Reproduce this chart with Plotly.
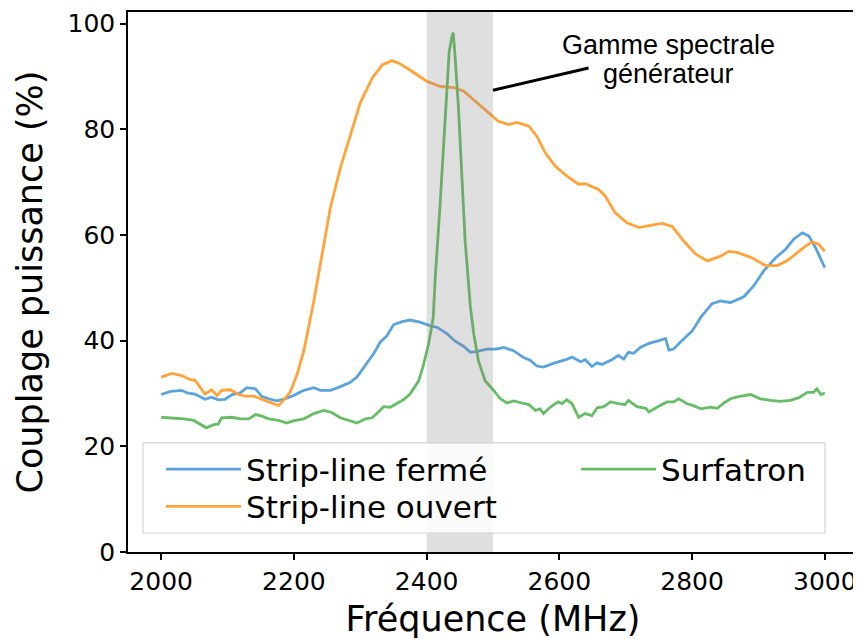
import plotly.graph_objects as go

# ---------------- data ----------------
freq_ferme = [2000, 2014, 2031, 2039, 2051, 2066, 2076, 2086, 2096, 2107, 2119, 2129, 2142, 2152,
              2162, 2174, 2184, 2199, 2215, 2230, 2240, 2255, 2270, 2285, 2295, 2308, 2320, 2330,
              2340, 2350, 2363, 2375, 2390, 2406, 2416, 2431, 2443, 2456, 2466, 2478, 2491, 2504,
              2516, 2531, 2546, 2556, 2566, 2576, 2591, 2612, 2619, 2632, 2639, 2649, 2657, 2664,
              2679, 2689, 2697, 2704, 2712, 2722, 2735, 2750, 2760, 2765, 2772, 2782, 2792, 2800,
              2813, 2830, 2843, 2858, 2878, 2893, 2908, 2926, 2941, 2953, 2966, 2976, 2986, 3000]
val_ferme = [29.8, 30.4, 30.6, 30.1, 29.9, 28.9, 29.3, 28.8, 28.9, 29.8, 30.1, 31.1, 30.9, 29.4,
             29.0, 28.6, 28.9, 29.6, 30.6, 31.1, 30.6, 30.6, 31.3, 32.1, 33.1, 35.3, 37.5, 39.7,
             40.9, 43.0, 43.6, 43.9, 43.5, 42.8, 42.5, 41.3, 39.9, 38.9, 37.8, 38.0, 38.4, 38.4,
             38.7, 38.1, 36.8, 36.3, 35.2, 35.0, 35.7, 36.5, 36.9, 36.0, 36.4, 35.1, 35.8, 35.5,
             36.4, 37.2, 36.5, 37.8, 37.6, 38.7, 39.5, 40.0, 40.4, 38.2, 38.4, 39.7, 40.9, 41.8,
             44.4, 47.0, 47.5, 47.2, 48.3, 50.4, 53.2, 55.7, 57.3, 59.2, 60.4, 59.8, 57.6, 53.8]

freq_ouvert = [2000, 2016, 2031, 2044, 2051, 2059, 2066, 2076, 2084, 2091, 2104, 2117, 2127, 2139,
               2149, 2162, 2177, 2184, 2194, 2205, 2215, 2230, 2242, 2255, 2270, 2285, 2300, 2318,
               2333, 2348, 2360, 2380, 2400, 2421, 2441, 2456, 2476, 2496, 2508, 2524, 2536, 2554,
               2566, 2579, 2594, 2612, 2629, 2639, 2659, 2669, 2684, 2702, 2720, 2737, 2755, 2770,
               2787, 2805, 2823, 2843, 2855, 2868, 2890, 2911, 2928, 2943, 2958, 2971, 2981, 2991, 3000]
val_ouvert = [33.1, 33.8, 33.4, 32.6, 32.5, 31.2, 29.9, 30.7, 29.6, 30.6, 30.7, 29.8, 29.5, 29.5,
              29.0, 28.4, 27.7, 28.7, 30.2, 33.7, 38.1, 47.5, 55.7, 65.2, 72.7, 79.0, 85.0, 89.7,
              92.2, 93.0, 92.4, 90.8, 89.1, 88.1, 87.9, 87.2, 85.0, 82.8, 81.5, 80.9, 81.3, 80.6,
              78.7, 75.5, 73.0, 71.1, 69.6, 69.7, 68.6, 67.4, 64.2, 62.3, 61.4, 61.8, 62.2, 61.6,
              58.9, 56.4, 55.1, 56.0, 56.9, 56.7, 55.7, 54.2, 54.2, 55.1, 56.7, 57.9, 58.7, 58.2, 56.9]

freq_surf = [2000, 2014, 2034, 2049, 2059, 2068, 2079, 2086, 2091, 2107, 2119, 2132, 2142, 2152,
             2162, 2177, 2189, 2199, 2215, 2230, 2245, 2257, 2270, 2282, 2295, 2308, 2318, 2328,
             2335, 2345, 2355, 2365, 2375, 2388, 2395, 2403, 2410, 2413, 2420, 2426, 2431, 2434,
             2438, 2440, 2443, 2448, 2453, 2458, 2466, 2471, 2478, 2488, 2501, 2511, 2521, 2531,
             2544, 2554, 2564, 2571, 2576, 2586, 2598, 2604, 2611, 2619, 2629, 2639, 2649, 2657,
             2667, 2677, 2689, 2699, 2704, 2717, 2730, 2735, 2747, 2762, 2772, 2780, 2792, 2802,
             2813, 2828, 2838, 2848, 2858, 2870, 2888, 2903, 2918, 2933, 2948, 2961, 2974, 2983,
             2988, 2994, 3000]
val_surf = [25.5, 25.4, 25.2, 24.9, 24.2, 23.5, 24.1, 24.2, 25.4, 25.5, 25.2, 25.2, 26.0, 25.7,
            25.2, 24.9, 24.4, 24.8, 25.2, 26.2, 26.8, 26.4, 25.4, 24.9, 24.4, 25.2, 25.4, 26.6,
            27.5, 27.4, 28.1, 28.8, 29.9, 32.4, 35.3, 39.4, 44.4, 52.0, 65.2, 77.7, 88.4, 94.7,
            97.5, 98.3, 93.5, 84.0, 71.4, 58.9, 46.3, 41.3, 36.2, 32.4, 30.6, 29.0, 28.2, 28.6,
            28.2, 27.9, 26.8, 27.1, 26.2, 27.4, 28.4, 28.1, 28.8, 28.1, 25.5, 26.2, 25.8, 27.3,
            27.5, 28.4, 28.1, 27.9, 28.7, 27.5, 27.2, 26.5, 27.4, 28.4, 28.4, 29.0, 28.1, 27.7,
            27.1, 27.4, 27.2, 28.2, 29.0, 29.4, 29.8, 29.0, 28.7, 28.5, 28.7, 29.2, 30.2, 30.2,
            30.9, 29.8, 30.1]

series_names = ["Strip-line fermé", "Strip-line ouvert", "Surfatron"]
band_range = [2400, 2500]
x_ticks = [2000, 2200, 2400, 2600, 2800, 3000]
y_ticks = [0, 20, 40, 60, 80, 100]
annotation_lines = ["Gamme spectrale", "générateur"]

# ---------------- figure ----------------
FONT = "DejaVu Sans"
colors = ["#5ba3dc", "#ffa33a", "#66bd66"]

fig = go.Figure()
series = [(freq_ferme, val_ferme), (freq_ouvert, val_ouvert), (freq_surf, val_surf)]
legend_ids = ["legend", "legend2", "legend3"]
for (fx, fy), name, col, lg in zip(series, series_names, colors, legend_ids):
    fig.add_trace(go.Scatter(x=fx, y=fy, mode="lines", name=name, showlegend=True,
                             line=dict(color=col, width=2.8), legend=lg))

# grey band (drawn over the curves, like an axvspan)
fig.add_shape(type="rect", xref="x", yref="paper", x0=band_range[0], x1=band_range[1],
              y0=0, y1=1, fillcolor="rgba(128,128,128,0.25)", line=dict(width=0), layer="above")
# legend frame
fig.add_shape(type="rect", xref="paper", yref="paper", x0=0.0205, x1=0.9548, y0=0.0352, y1=0.2019,
              fillcolor="rgba(255,255,255,0.85)", line=dict(color="#d4d4d4", width=1.2), layer="above")
# annotation pointer line
fig.add_shape(type="line", xref="x", yref="y", x0=2500, y0=87.4, x1=2644, y1=91.6,
              line=dict(color="black", width=3), layer="above")

fig.add_annotation(x=2764, y=96.0, xref="x", yref="y", text=annotation_lines[0], showarrow=False,
                   font=dict(family="Liberation Sans, Arial", size=27, color="black"))
fig.add_annotation(x=2764, y=90.5, xref="x", yref="y", text=annotation_lines[1], showarrow=False,
                   font=dict(family="Liberation Sans, Arial", size=27, color="black"))

leg_common = dict(bgcolor="rgba(0,0,0,0)", borderwidth=0, font=dict(family=FONT, size=31, color="black"),
                  xanchor="left", yanchor="middle", itemwidth=75)

axis_common = dict(showline=True, linecolor="black", linewidth=1.5, mirror=True, ticks="outside",
                   ticklen=6, tickwidth=1.5, tickcolor="black", showgrid=False, zeroline=False,
                   automargin=False, tickfont=dict(family=FONT, size=25, color="black"))

# the page body adds an 8 px offset, so the figure is 8 px smaller and margins shifted
fig.update_layout(
    width=853, height=631,
    margin=dict(l=120, r=3, t=4, b=87),
    showlegend=True,
    paper_bgcolor="white", plot_bgcolor="white",
    font=dict(family=FONT, color="black"),
    xaxis=dict(range=[1950, 3050], tickvals=x_ticks,
               title=dict(text="Fréquence (MHz)", font=dict(family=FONT, size=35), standoff=12),
               **axis_common),
    yaxis=dict(range=[0, 102.2], tickvals=y_ticks,
               title=dict(text="Couplage puissance (%)", font=dict(family=FONT, size=35), standoff=14),
               **axis_common),
    legend=dict(x=0.0452, y=0.153, **leg_common),
    legend2=dict(x=0.0452, y=0.084, **leg_common),
    legend3=dict(x=0.6137, y=0.153, **leg_common),
)

fig.write_html("out.html")
